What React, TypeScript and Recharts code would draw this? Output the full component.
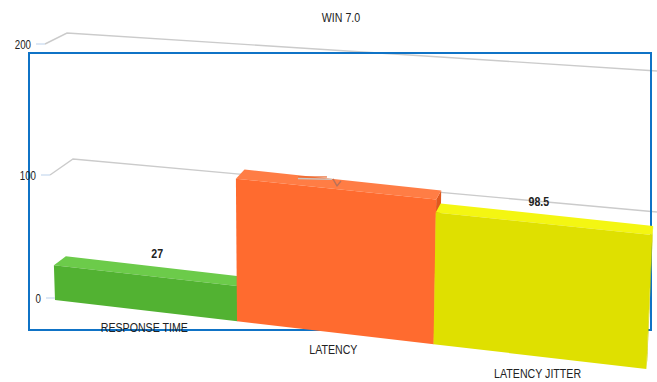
import React from "react";
import { BarChart, Bar, XAxis, YAxis, CartesianGrid, LabelList } from "recharts";

const categories = ["RESPONSE TIME", "LATENCY", "LATENCY JITTER"];
const values = [27, 108, 98.5];
const printedValues = [27, null, 98.5];
const axisTicks = [0, 100, 200];
const chartTitle = "WIN 7.0";

const faceColors = ["#52b232", "#ff6b2f", "#dfe000"];
const topColors = ["#6ccb4a", "#ff7d45", "#f4f612"];
const sideColors = ["#429a26", "#e0581f", "#c8ca00"];

const W = 657;
const H = 382;
const MARGIN_Y = 20;
const AXIS_GUTTER = 1;
const PLOT_W = W - AXIS_GUTTER;
const PLOT_H = H - 2 * MARGIN_Y;
const MAX_V = 200;
const FORESHORTEN = 0.9387;
const FONT = "'Liberation Sans', Arial, sans-serif";
const INK = "#222";

type Pt = [number, number];

// Builds a projective map from the unit square onto a quadrilateral
// given in the order (0,0), (1,0), (1,1), (0,1).
function makeProjection(p0: Pt, p1: Pt, p2: Pt, p3: Pt) {
  const dx1 = p1[0] - p2[0];
  const dx2 = p3[0] - p2[0];
  const sx = p0[0] - p1[0] + p2[0] - p3[0];
  const dy1 = p1[1] - p2[1];
  const dy2 = p3[1] - p2[1];
  const sy = p0[1] - p1[1] + p2[1] - p3[1];
  const det = dx1 * dy2 - dx2 * dy1;
  const g = (sx * dy2 - dx2 * sy) / det;
  const h = (dx1 * sy - sx * dy1) / det;
  const a = p1[0] - p0[0] + g * p1[0];
  const b = p3[0] - p0[0] + h * p3[0];
  const d = p1[1] - p0[1] + g * p1[1];
  const e = p3[1] - p0[1] + h * p3[1];
  return (u: number, t: number): Pt => {
    const w = g * u + h * t + 1;
    return [(a * u + b * t + p0[0]) / w, (d * u + e * t + p0[1]) / w];
  };
}

// Planes of the tilted scene; t = 1 is a value of 100 on the front and rear bar planes.
const frontPlane = makeProjection([55, 300], [646, 369], [652, 233], [51, 170]);
const rearPlane = makeProjection([67, 291], [647, 360], [653, 224], [63, 161]);
// The wall carrying the gridlines: t = 0 is a value of 100, t = 1 a value of 200.
const wallPlane = makeProjection([73, 159], [657, 212], [657, 71], [67, 33]);

const wallAt = (u: number, v: number) => wallPlane(u, (v - 100) / 100);
// Where a gridline starts at the left, before it turns back towards the wall.
const gridEdge = (v: number): Pt => [55 - (v / 200) * 10, 298 - (v / 100) * 123 - Math.max(0, v - 100) * 0.08];

// Horizontal position along the scene, with the near end of the chart stretched.
const toU = (x: number) => {
  const u = (x - AXIS_GUTTER) / PLOT_W;
  return (FORESHORTEN * u) / (1 + (FORESHORTEN - 1) * u);
};
const toValue = (y: number) => ((H - MARGIN_Y - y) / PLOT_H) * MAX_V;
const poly = (pts: Pt[]) => pts.map((p) => `${p[0].toFixed(1)},${p[1].toFixed(1)}`).join(" ");

// Condensed caption: real text, narrowed horizontally around its anchor point.
function Caption(props: any) {
  const { x, y, anchor = "middle", squeeze = 0.85, bold = false, children } = props;
  return (
    <text
      transform={`translate(${x} ${y}) scale(${squeeze} 1)`}
      textAnchor={anchor}
      fontFamily={FONT}
      fontSize={12.5}
      fontWeight={bold ? "bold" : "normal"}
      fill={INK}
    >
      {children}
    </text>
  );
}

function Block(props: any) {
  const { x, y, width, height, index } = props;
  const u0 = toU(x);
  const u1 = toU(x + width);
  const top = toValue(y) / 100;
  const base = toValue(y + height) / 100;
  const [nx, ny] = rearPlane((u0 + u1) / 2, top);
  return (
    <g>
      <polygon
        points={poly([rearPlane(u1, base), rearPlane(u1, top), frontPlane(u1, top), frontPlane(u1, base)])}
        fill={sideColors[index]}
      />
      <polygon
        points={poly([frontPlane(u0, top), frontPlane(u1, top), rearPlane(u1, top), rearPlane(u0, top)])}
        fill={topColors[index]}
      />
      <polygon
        points={poly([frontPlane(u0, base), frontPlane(u1, base), frontPlane(u1, top), frontPlane(u0, top)])}
        fill={faceColors[index]}
      />
      {printedValues[index] == null && (
        // Stub of the leader for the value that is not printed on this bar.
        <g fill="none" strokeLinejoin="round">
          <path d={`M${nx - 44} ${ny - 3}L${nx - 15} ${ny - 3}`} stroke="#e8662c" strokeWidth={1.2} />
          <path d={`M${nx - 44} ${ny - 1.4}L${nx - 10} ${ny - 0.6}`} stroke="#c9c4c0" strokeWidth={1.4} />
          <path d={`M${nx - 9} ${ny - 1}L${nx - 5} ${ny + 6}L${nx - 1} ${ny + 1}`} stroke="#b9725a" strokeWidth={1.4} />
        </g>
      )}
    </g>
  );
}

function GridLine(props: any) {
  const v = toValue(props.y1);
  if (v < 1) return <g key="grid-base" />;
  return (
    <polyline
      key={`grid-${v}`}
      points={poly([gridEdge(v), wallAt(0, v), wallAt(1, v)])}
      fill="none"
      stroke="#cbcbcb"
      strokeWidth={1.4}
    />
  );
}

function ValueTick(props: any) {
  const v = props.payload.value;
  const [ex, ey] = gridEdge(v);
  return (
    <g>
      <line x1={ex - 9} x2={ex} y1={ey} y2={ey} stroke="#c6d9ee" strokeWidth={1.2} />
      <Caption x={ex - 14} y={ey + 4.5} anchor="end" squeeze={0.78}>
        {v}
      </Caption>
    </g>
  );
}

function CategoryTick(props: any) {
  const [px, py] = frontPlane(toU(props.x), 0);
  return (
    <Caption x={px} y={py + 22}>
      {props.payload.value}
    </Caption>
  );
}

function ValueLabel(props: any) {
  const { x, y, width, value } = props;
  if (value == null) return null;
  const u = toU(x + width / 2);
  const [px, py] = rearPlane(u, toValue(y) / 100);
  // Printed values drift towards the middle of the chart relative to the bar centres.
  const drift = 3 - (u - 1 / 6) * 13.5;
  return (
    <Caption x={px + drift} y={py - 9} bold>
      {value}
    </Caption>
  );
}

const rows = categories.map((name, i) => ({ name, value: values[i], printed: printedValues[i] }));

export default function App() {
  return (
    <div style={{ position: "absolute", left: 0, top: 0, width: W, height: H, background: "#fff" }}>
      <BarChart
        width={W}
        height={H}
        data={rows}
        margin={{ top: MARGIN_Y, bottom: MARGIN_Y - AXIS_GUTTER, left: 0, right: 0 }}
        barCategoryGap={0}
      >
        <CartesianGrid vertical={false} horizontal={GridLine as any} />
        <rect x={29} y={53} width={622} height={277} fill="none" stroke="#0f73c6" strokeWidth={2} />
        <Caption x={341} y={22}>
          {chartTitle}
        </Caption>
        <XAxis
          dataKey="name"
          height={AXIS_GUTTER}
          axisLine={false}
          tickLine={false}
          interval={0}
          tick={CategoryTick as any}
        />
        <YAxis
          type="number"
          domain={[0, MAX_V]}
          ticks={axisTicks}
          interval={0}
          width={AXIS_GUTTER}
          axisLine={false}
          tickLine={false}
          tick={ValueTick as any}
        />
        <Bar dataKey="value" isAnimationActive={false} shape={Block as any}>
          <LabelList dataKey="printed" content={ValueLabel as any} />
        </Bar>
      </BarChart>
    </div>
  );
}
